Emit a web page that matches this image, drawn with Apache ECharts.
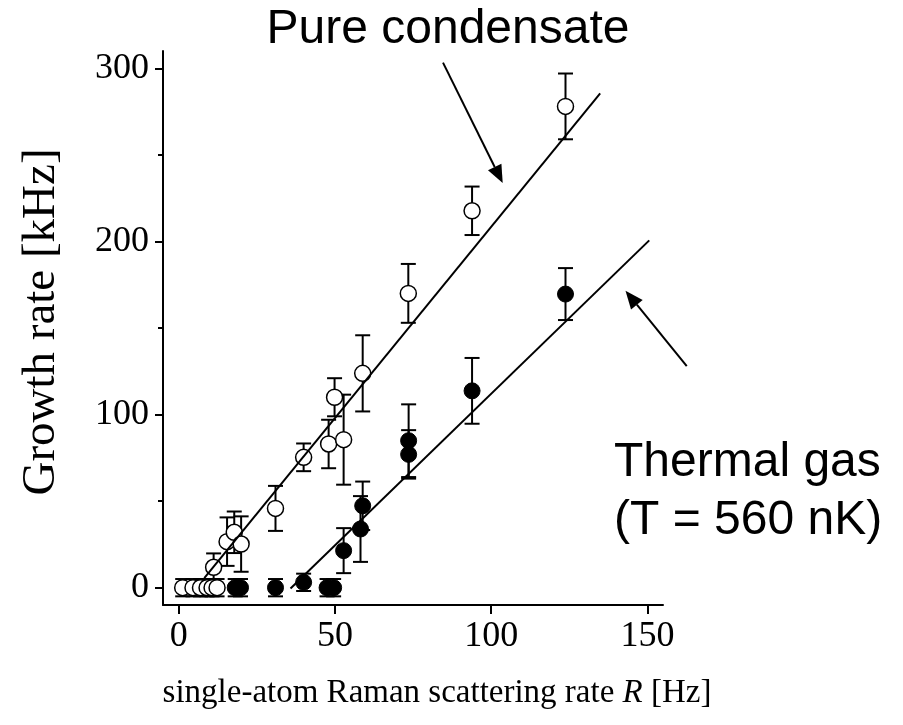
<!DOCTYPE html>
<html>
<head>
<meta charset="utf-8">
<script src="https://cdn.jsdelivr.net/npm/echarts@6/dist/echarts.min.js"></script>
<style>html,body{margin:0;padding:0;background:#fff;}#c{width:903px;height:725px;}</style>
</head>
<body>
<div id="c"></div>
<script>
// Pure condensate (open circles)
var pureX   = [1.3, 4.6, 7.0, 9.1, 10.7, 12.3, 11.2, 15.5, 17.8, 20.0, 31.0, 40.0, 48.0, 49.9, 52.8, 58.9, 73.5, 93.9, 123.8];
var pureY   = [0, 0, 0, 0, 0, 0, 11.8, 26.6, 32.0, 25.2, 45.8, 75.3, 83.0, 110.0, 85.5, 123.8, 170.0, 217.7, 278.0];
var pureErr = [5, 5, 5, 5, 5, 5, 8, 14, 12, 16, 13, 8, 14, 11, 26, 22, 17, 14, 19];
// Thermal gas (filled circles)
var thermX   = [18.1, 19.8, 31.0, 40.0, 47.5, 49.6, 52.8, 58.2, 58.9, 73.6, 73.6, 93.9, 123.8];
var thermY   = [0, 0, 0, 3.1, 0, 0, 21.4, 33.9, 47.3, 84.9, 77.0, 113.7, 169.6];
var thermErr = [5, 5, 5, 5, 5, 5, 13, 19, 14, 21, 14, 19, 15];
// Fit lines (endpoints)
var pureFitX = [8.2, 134.9];
var pureFitY = [5.5, 285.5];
var thermFitX = [35.8, 150.6];
var thermFitY = [-0.5, 200.6];
// Ticks
var xTicks = [0, 50, 100, 150];
var yTicks = [0, 100, 200, 300];
var yMinorTicks = [50, 150, 250];
// Annotation arrows (data coordinates: from -> to)
var pureArrow = [[84.6, 303.3], [103.7, 233.7]];
var thermArrow = [[162.6, 128.0], [143.0, 171.5]];

function zip(xs, ys) { return xs.map(function (x, i) { return [x, ys[i]]; }); }
function zip3(xs, ys, es) { return xs.map(function (x, i) { return [x, ys[i], es[i]]; }); }

var chart = echarts.init(document.getElementById('c'), null, { renderer: 'canvas' });

function errRender(params, api) {
  var x = api.value(0), y = api.value(1), e = api.value(2);
  var top = api.coord([x, y + e]);
  var bot = api.coord([x, y - e]);
  var hw = 7.5;
  var st = { stroke: '#000', lineWidth: 2 };
  return {
    type: 'group',
    children: [
      { type: 'line', shape: { x1: top[0], y1: top[1], x2: bot[0], y2: bot[1] }, style: st },
      { type: 'line', shape: { x1: top[0] - hw, y1: top[1], x2: top[0] + hw, y2: top[1] }, style: st },
      { type: 'line', shape: { x1: bot[0] - hw, y1: bot[1], x2: bot[0] + hw, y2: bot[1] }, style: st }
    ]
  };
}

var serif = 'Liberation Serif';
var sans = 'Liberation Sans';

var option = {
  backgroundColor: '#fff',
  animation: false,
  grid: { left: 163, top: 51, right: 240, bottom: 120, containLabel: false },
  xAxis: {
    type: 'value', min: -5, max: 155,
    axisLine: { show: true, onZero: false, lineStyle: { color: '#000', width: 2 } },
    axisTick: { show: true, length: 9, customValues: xTicks, lineStyle: { color: '#000', width: 2 } },
    axisLabel: { customValues: xTicks, color: '#000', fontFamily: serif, fontSize: 36, margin: 14 },
    splitLine: { show: false }
  },
  yAxis: [{
    type: 'value', min: -10, max: 310,
    axisLine: { show: true, onZero: false, lineStyle: { color: '#000', width: 2 } },
    axisTick: { show: true, length: 8, customValues: yTicks, lineStyle: { color: '#000', width: 2 } },
    axisLabel: { customValues: yTicks, color: '#000', fontFamily: serif, fontSize: 36, margin: 14 },
    splitLine: { show: false }
  }, {
    type: 'value', min: -10, max: 310, position: 'left', offset: 0,
    axisLine: { show: false, onZero: false },
    axisTick: { show: true, length: 5, customValues: yMinorTicks, lineStyle: { color: '#000', width: 2 } },
    axisLabel: { show: false },
    splitLine: { show: false }
  }],
  series: [
    { type: 'custom', name: 'pureErr', renderItem: errRender, data: zip3(pureX, pureY, pureErr), z: 1, clip: false },
    { type: 'custom', name: 'thermErr', renderItem: errRender, data: zip3(thermX, thermY, thermErr), z: 1, clip: false },
    { type: 'scatter', name: 'Pure condensate', data: zip(pureX, pureY), symbol: 'circle', symbolSize: 16,
      itemStyle: { color: '#fff', borderColor: '#000', borderWidth: 1.5, opacity: 1 }, z: 2 },
    { type: 'scatter', name: 'Thermal gas', data: zip(thermX, thermY), symbol: 'circle', symbolSize: 16,
      itemStyle: { color: '#000', borderColor: '#000', borderWidth: 1, opacity: 1 }, z: 2 },
    { type: 'line', data: zip(pureFitX, pureFitY), symbol: 'none', lineStyle: { color: '#000', width: 2 }, z: 3 },
    { type: 'line', data: zip(thermFitX, thermFitY), symbol: 'none', lineStyle: { color: '#000', width: 2 }, z: 3 }
  ]
};
chart.setOption(option);

function arrowGraphic(a) {
  var p0 = chart.convertToPixel({ gridIndex: 0 }, a[0]);
  var p1 = chart.convertToPixel({ gridIndex: 0 }, a[1]);
  var dx = p1[0] - p0[0], dy = p1[1] - p0[1];
  var L = Math.sqrt(dx * dx + dy * dy);
  var ux = dx / L, uy = dy / L;
  var hl = 18, hw = 7.5;
  var bx = p1[0] - ux * hl, by = p1[1] - uy * hl;
  return [
    { type: 'line', shape: { x1: p0[0], y1: p0[1], x2: bx, y2: by }, style: { stroke: '#000', lineWidth: 2 } },
    { type: 'polygon', shape: { points: [[p1[0], p1[1]], [bx - uy * hw, by + ux * hw], [bx + uy * hw, by - ux * hw]] }, style: { fill: '#000' } }
  ];
}

var g = [];
g = g.concat(arrowGraphic(pureArrow), arrowGraphic(thermArrow));
g.push({ type: 'text', x: 448, y: 30, style: { text: 'Pure condensate', font: '48px "' + sans + '"', fill: '#000', textAlign: 'center', textVerticalAlign: 'middle' } });
g.push({ type: 'text', x: 614, y: 463, style: { text: 'Thermal gas', font: '48px "' + sans + '"', fill: '#000', textAlign: 'left', textVerticalAlign: 'middle' } });
g.push({ type: 'text', x: 614, y: 521, style: { text: '(T = 560 nK)', font: '48px "' + sans + '"', fill: '#000', textAlign: 'left', textVerticalAlign: 'middle' } });
g.push({ type: 'text', x: 42, y: 322, rotation: Math.PI / 2, style: { text: 'Growth rate [kHz]', font: '47px "' + serif + '"', fill: '#000', textAlign: 'center', textVerticalAlign: 'middle' } });
g.push({ type: 'text', x: 437, y: 693, style: {
  text: '{a|single-atom Raman scattering rate }{i|R}{a| [Hz]}',
  textAlign: 'center', textVerticalAlign: 'middle',
  rich: {
    a: { fontFamily: serif, fontSize: 33, fill: '#000', color: '#000' },
    i: { fontFamily: serif, fontSize: 33, fontStyle: 'italic', fill: '#000', color: '#000' }
  } } });
chart.setOption({ graphic: g });
</script>
</body>
</html>
